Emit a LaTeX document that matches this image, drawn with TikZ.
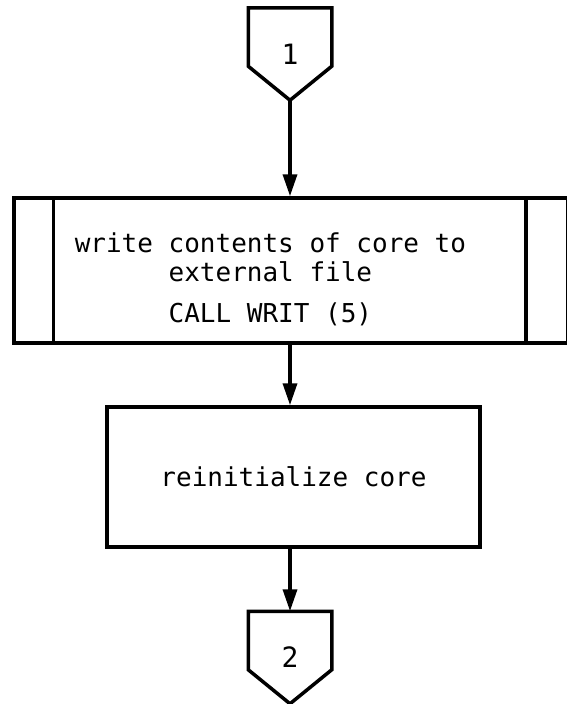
\documentclass[tikz,border=0pt]{standalone}
\usepackage{fontspec}
\setmonofont{DejaVu Sans Mono}
\usetikzlibrary{arrows.meta,calc}
\tikzset{
  >={Triangle[length=22pt,width=14pt]},
  every node/.style={font=\ttfamily\fontsize{26}{29}\selectfont},
  offpage/.style={minimum width=80pt, minimum height=89pt, inner sep=0pt,
    font=\ttfamily\fontsize{28}{30}\selectfont},
  predef/.style={draw, minimum width=554pt, minimum height=145pt},
  procbox/.style={draw, minimum width=373pt, minimum height=140pt},
  flow/.style={->, line width=3.5pt},
}
\begin{document}
\begin{tikzpicture}[x=1pt,y=1pt,line width=3.5pt,line join=miter]
\useasboundingbox (0,0) rectangle (566,-704);

% off-page connector 1
\node[offpage] (c1) at (290,-54) {1};
\draw (c1.north west) -- (c1.north east) -- ($(c1.south east)+(0,34)$)
  -- (c1.south) -- ($(c1.south west)+(0,34)$) -- cycle;

% predefined process
\node[predef] (b1) at (291,-270.5) {};
\draw ($(b1.north west)+(41,0)$) -- ($(b1.south west)+(41,0)$)
      ($(b1.north east)+(-44,0)$) -- ($(b1.south east)+(-44,0)$);
\node[anchor=base west, align=left, inner sep=0pt] (b1txt) at (73,-322)
  {write contents of core to\\
   \hphantom{xxxxxx}external file\\[12pt]
   \hphantom{xxxxxx}CALL WRIT (5)};

% process
\node[procbox] (b2) at (293.5,-477) {reinitialize core};

% off-page connector 2
\node[offpage] (c2) at (290,-657.5) {2};
\draw (c2.north west) -- (c2.north east) -- ($(c2.south east)+(0,34)$)
  -- (c2.south) -- ($(c2.south west)+(0,34)$) -- cycle;

\draw[flow] (c1.south) -- (b1.north -| c1.south);
\draw[flow] (b1.south -| c1.south) -- (b2.north -| c1.south);
\draw[flow] (b2.south -| c1.south) -- (c2.north);
\end{tikzpicture}
\end{document}
